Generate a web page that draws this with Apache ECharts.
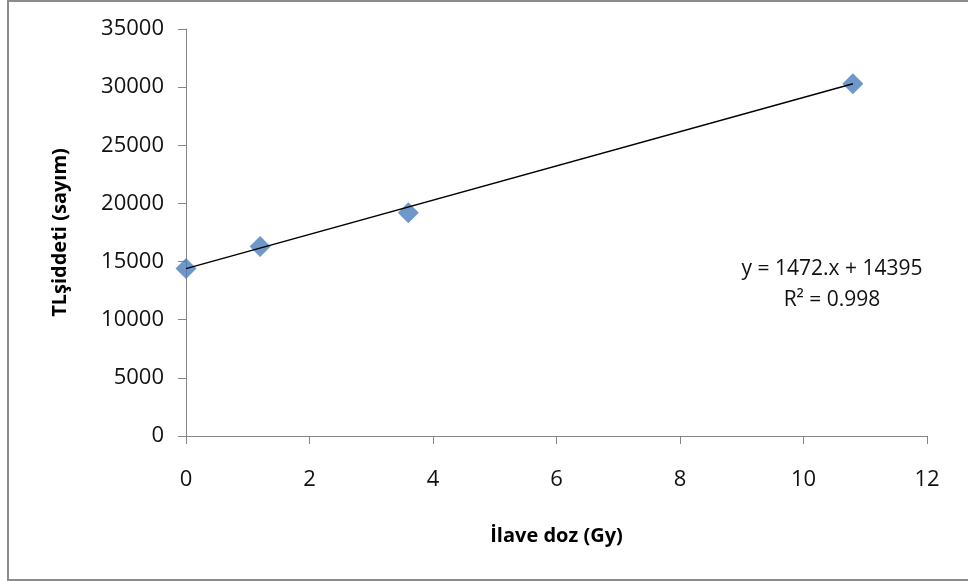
<!DOCTYPE html>
<html>
<head>
<meta charset="utf-8">
<script src="https://cdn.jsdelivr.net/npm/echarts@6/dist/echarts.min.js"></script>
<style>
  html, body { margin: 0; padding: 0; background: #fff; }
  #frame {
    position: absolute; left: 7px; top: 0; width: 970px; height: 577px;
    border: 2px solid #8c8c8c; box-sizing: content-box;
  }
  #chart { position: absolute; left: 0; top: 0; width: 968px; height: 581px; }
</style>
</head>
<body>
<div id="frame"></div>
<div id="chart"></div>
<script>
// measured points
var doseGy = [0, 1.2, 3.6, 10.8];
var tlCounts = [14400, 16300, 19200, 30300];
// trend line ends (y = 1472.x + 14395)
var trendX = [0, 10.8];
var trendY = [14395, 30293.6];
var eqText = ["y = 1472.x + 14395", "R² = 0.998"];

var font = "'Open Sans', 'Noto Sans', sans-serif";
var axisColor = "#868686";

var chart = echarts.init(document.getElementById("chart"));
chart.setOption({
  animation: false,
  grid: { left: 186, right: 41, top: 29, bottom: 145 },
  xAxis: {
    type: "value",
    min: 0, max: 12, interval: 2,
    name: "İlave doz (Gy)",
    nameLocation: "middle",
    nameGap: 90,
    nameTextStyle: { fontFamily: font, fontSize: 20, fontWeight: "bold", color: "#000" },
    axisLine: { show: true, onZero: false, lineStyle: { color: axisColor, width: 1 } },
    axisTick: { show: true, inside: false, length: 8, lineStyle: { color: axisColor } },
    axisLabel: { margin: 33, fontFamily: font, fontSize: 22, color: "#111" },
    splitLine: { show: false }
  },
  yAxis: {
    type: "value",
    min: 0, max: 35000, interval: 5000,
    name: "TLşiddeti (sayım)",
    nameLocation: "middle",
    nameGap: 116,
    nameRotate: 90,
    nameTextStyle: { fontFamily: font, fontSize: 20, fontWeight: "bold", color: "#000" },
    axisLine: { show: true, lineStyle: { color: axisColor, width: 1 } },
    axisTick: { show: true, length: 8, lineStyle: { color: axisColor } },
    axisLabel: {
      margin: 22, fontFamily: font, fontSize: 22, color: "#111",
      formatter: function (v) { return String(v); }
    },
    splitLine: { show: false }
  },
  series: [
    {
      type: "line",
      data: trendX.map(function (x, i) { return [x, trendY[i]]; }),
      symbol: "none",
      lineStyle: { color: "#000", width: 1.5 },
      z: 3
    },
    {
      type: "scatter",
      data: doseGy.map(function (x, i) { return [x, tlCounts[i]]; }),
      symbol: "diamond",
      symbolSize: [21, 21],
      itemStyle: { color: "#4a7ebb" },
      z: 2
    }
  ],
  graphic: [
    {
      type: "text", x: 832, y: 285,
      style: {
        text: eqText.join("\n"),
        fontFamily: font, fontSize: 21, fill: "#111",
        align: "center", verticalAlign: "middle", lineHeight: 31
      }
    }
  ]
});
</script>
</body>
</html>
